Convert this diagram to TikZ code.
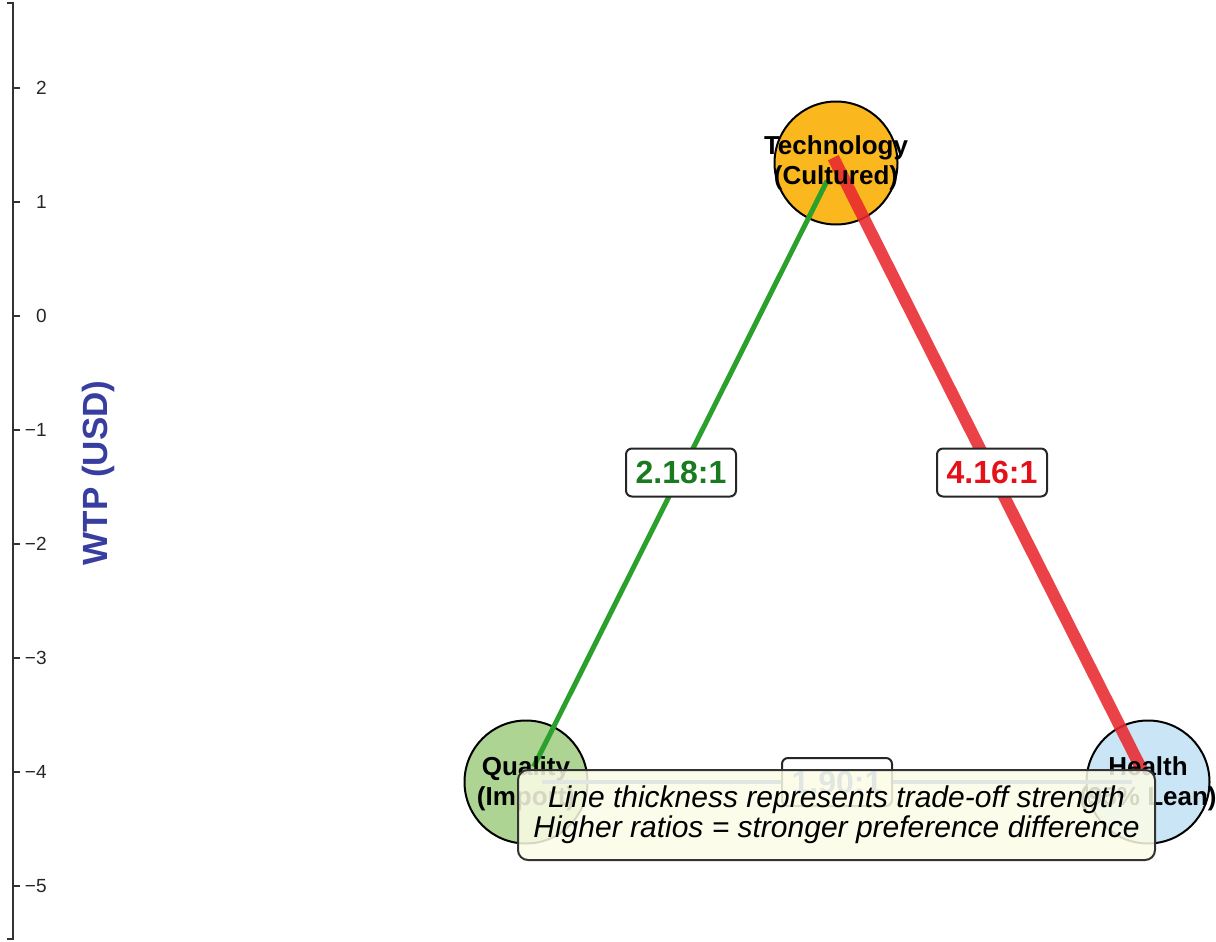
\documentclass[tikz,border=0pt]{standalone}
\usepackage{fontspec}
\setmainfont{Liberation Sans}
\usetikzlibrary{positioning}
\definecolor{techorange}{RGB}{250,184,30}
\definecolor{qualgreen}{RGB}{174,212,148}
\definecolor{healthblue}{RGB}{202,230,246}
\definecolor{edgegreen}{RGB}{44,160,44}
\definecolor{edgered}{RGB}{232,40,46}
\definecolor{edgeblue}{RGB}{70,110,205}
\definecolor{labgreen}{RGB}{26,122,32}
\definecolor{labred}{RGB}{228,18,24}
\definecolor{axisblue}{RGB}{56,62,160}
\definecolor{notefill}{RGB}{252,252,230}
\begin{document}
\begin{tikzpicture}[x=0.5pt,y=-0.5pt,
		attr/.style={circle,draw=black,line width=1pt,minimum size=61.5pt,inner sep=0pt},
		attrtext/.style={align=center,font=\fontsize{13}{15}\selectfont\bfseries},
		ratio/.style={draw=black!85,line width=1pt,rounded corners=3pt,fill=white,
			minimum width=55pt,minimum height=24pt,inner sep=0pt,font=\fontsize{16}{18}\selectfont\bfseries},
		tick/.style={font=\fontsize{9.5}{11}\selectfont,text=black!85,anchor=east,inner sep=0pt}]
			\useasboundingbox (0,0) rectangle (1216,942);
			\draw[line width=0.6pt, black!80] (7,3)--(13,3)--(13,939)--(7,939);
			\foreach \v/\t in {2/2,1/1,0/0,-1/−1,-2/−2,-3/−3,-4/−4,-5/−5}{
				\draw[line width=0.6pt, black!80] (13,{316-114*\v})--(20,{316-114*\v});
				\node[tick] (tick\v) at (47,{316-114*\v}) {\t};
			}
			\node[rotate=90,text=axisblue,font=\fontsize{17.5}{20}\selectfont\bfseries] (ylabel) at (98,473) {WTP (USD)};
			\node[attr,fill=techorange] (tech) at (836,163) {};
			\node[attr,fill=qualgreen] (qual) at (526,782) {};
			\node[attr,fill=healthblue] (health) at (1148,782) {};
			\draw[edgeblue, line width=1.6pt, shorten <=8pt, shorten >=8pt] (qual.center)--(health.center)
				node[ratio,midway,text=edgeblue] (rqh) {1.90:1};
			\draw[edgegreen, line width=2.5pt, shorten <=10pt, shorten >=8.5pt] (tech.center)--(qual.center)
				node[ratio,midway,text=labgreen] (rtq) {2.18:1};
			\draw[edgered, opacity=0.88, line width=6pt, shorten <=-3pt, shorten >=6.5pt] (tech.center)--(health.center);
			\path (tech.center)--(health.center) node[ratio,midway,text=labred] (rth) {4.16:1};
			\node[attrtext] (techtext) at (tech) {Technology\\(Cultured)};
			\node[attrtext] (qualtext) at ([yshift=-1pt]qual.center) {Quality\\(Import)};
			\node[attrtext] (healthtext) at ([yshift=-1pt]health.center) {Health\\(95\% Lean)};
			\node[draw=black!80,line width=1pt,rounded corners=5pt,fill=notefill,fill opacity=0.85,text opacity=1,
				minimum width=318.5pt,minimum height=45pt,align=center,
				font=\fontsize{15}{15}\selectfont\itshape] (note) at (836.5,815)
				{Line thickness represents trade-off strength\\Higher ratios = stronger preference difference};
\end{tikzpicture}
\end{document}
